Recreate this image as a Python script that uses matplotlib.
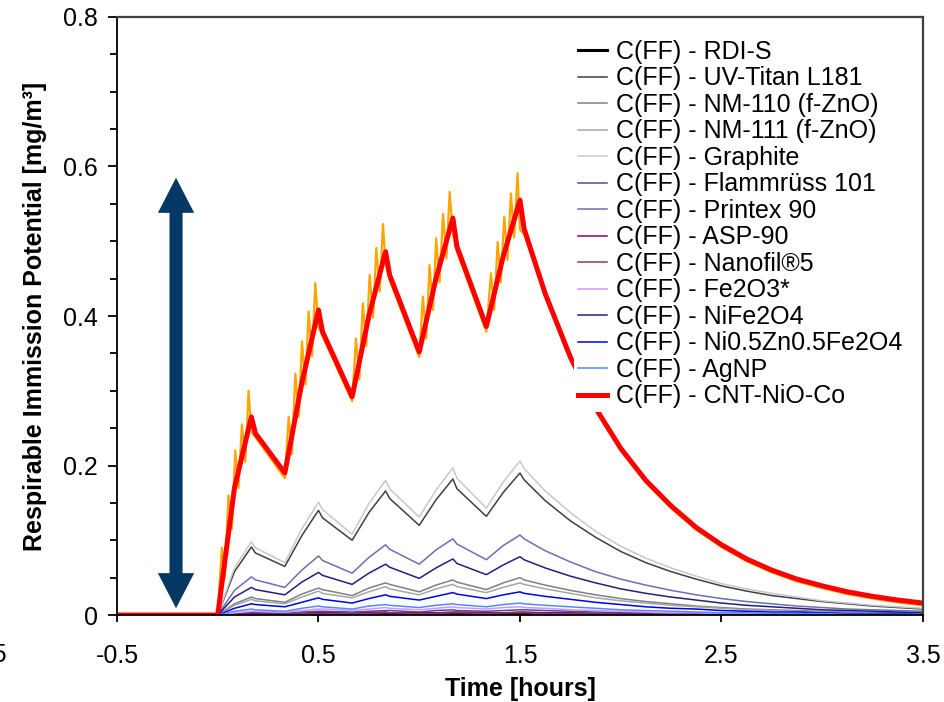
import matplotlib
matplotlib.use("Agg")
import matplotlib.pyplot as plt
from matplotlib.patches import Polygon

plt.rcParams['font.family'] = ['Liberation Sans', 'DejaVu Sans']

# time points [hours] shared by the C(FF) curves
t = [-0.5, 0, 0.083, 0.167, 0.187, 0.333, 0.417, 0.5, 0.52, 0.667, 0.75, 0.833, 0.853,
     1.0, 1.083, 1.167, 1.187, 1.333, 1.417, 1.5, 1.52, 1.625, 1.75, 1.875, 2.0, 2.125,
     2.25, 2.375, 2.5, 2.625, 2.75, 2.875, 3.0, 3.125, 3.25, 3.375, 3.5]

rdi_s = [0, 0, 0.001, 0.001, 0.001, 0.001, 0.001, 0.002, 0.002, 0.001, 0.002, 0.002, 0.002,
         0.001, 0.002, 0.002, 0.002, 0.001, 0.002, 0.002, 0.002, 0.002, 0.001, 0.001, 0.001, 0.001,
         0.001, 0, 0, 0, 0, 0, 0, 0, 0, 0, 0]
uv_titan = [0, 0, 0.058, 0.091, 0.083, 0.065, 0.106, 0.140, 0.130, 0.100, 0.137, 0.166, 0.156,
            0.120, 0.154, 0.182, 0.169, 0.132, 0.164, 0.190, 0.181, 0.153, 0.126, 0.104, 0.085, 0.070,
            0.058, 0.048, 0.039, 0.032, 0.026, 0.022, 0.018, 0.015, 0.012, 0.010, 0.008]
nm110 = [0, 0, 0.015, 0.024, 0.022, 0.017, 0.028, 0.036, 0.034, 0.026, 0.036, 0.043, 0.041,
         0.031, 0.040, 0.047, 0.044, 0.034, 0.043, 0.050, 0.047, 0.040, 0.033, 0.027, 0.022, 0.018,
         0.015, 0.012, 0.010, 0.008, 0.007, 0.006, 0.005, 0.004, 0.003, 0.003, 0.002]
nm111 = [0, 0, 0.013, 0.021, 0.019, 0.015, 0.024, 0.032, 0.029, 0.023, 0.031, 0.038, 0.035,
         0.027, 0.035, 0.041, 0.038, 0.030, 0.037, 0.043, 0.041, 0.035, 0.029, 0.023, 0.019, 0.016,
         0.013, 0.011, 0.009, 0.007, 0.006, 0.005, 0.004, 0.003, 0.003, 0.002, 0.002]
graphite = [0, 0, 0.063, 0.098, 0.090, 0.070, 0.115, 0.151, 0.141, 0.108, 0.149, 0.180, 0.169,
            0.131, 0.167, 0.197, 0.183, 0.143, 0.178, 0.206, 0.196, 0.166, 0.137, 0.112, 0.092, 0.076,
            0.063, 0.052, 0.042, 0.035, 0.029, 0.024, 0.019, 0.016, 0.013, 0.011, 0.009]
flammruss = [0, 0, 0.002, 0.003, 0.003, 0.002, 0.004, 0.005, 0.005, 0.004, 0.005, 0.006, 0.006,
             0.004, 0.006, 0.007, 0.006, 0.005, 0.006, 0.007, 0.007, 0.006, 0.005, 0.004, 0.003, 0.003,
             0.002, 0.002, 0.001, 0.001, 0.001, 0.001, 0.001, 0.001, 0, 0, 0]
printex = [0, 0, 0.033, 0.051, 0.047, 0.037, 0.060, 0.079, 0.073, 0.056, 0.077, 0.094, 0.088,
           0.068, 0.087, 0.102, 0.095, 0.074, 0.093, 0.107, 0.102, 0.086, 0.071, 0.058, 0.048, 0.040,
           0.033, 0.027, 0.022, 0.018, 0.015, 0.012, 0.010, 0.008, 0.007, 0.006, 0.005]
asp90 = [0, 0, 0.001, 0.002, 0.002, 0.001, 0.002, 0.003, 0.003, 0.002, 0.003, 0.004, 0.003,
         0.003, 0.003, 0.004, 0.004, 0.003, 0.003, 0.004, 0.004, 0.003, 0.003, 0.002, 0.002, 0.001,
         0.001, 0.001, 0.001, 0.001, 0.001, 0, 0, 0, 0, 0, 0]
nanofil = [0, 0, 0.001, 0.001, 0.001, 0.001, 0.002, 0.002, 0.002, 0.002, 0.002, 0.003, 0.003,
           0.002, 0.002, 0.003, 0.003, 0.002, 0.003, 0.003, 0.003, 0.002, 0.002, 0.002, 0.001, 0.001,
           0.001, 0.001, 0.001, 0, 0, 0, 0, 0, 0, 0, 0]
fe2o3 = [0, 0, 0.003, 0.005, 0.005, 0.004, 0.006, 0.008, 0.008, 0.006, 0.008, 0.010, 0.009,
         0.007, 0.009, 0.011, 0.010, 0.008, 0.010, 0.011, 0.010, 0.009, 0.007, 0.006, 0.005, 0.004,
         0.003, 0.003, 0.002, 0.002, 0.002, 0.001, 0.001, 0.001, 0.001, 0.001, 0]
nife2o4 = [0, 0, 0.024, 0.037, 0.034, 0.027, 0.044, 0.057, 0.053, 0.041, 0.056, 0.068, 0.064,
           0.049, 0.063, 0.075, 0.069, 0.054, 0.067, 0.078, 0.074, 0.063, 0.052, 0.043, 0.035, 0.029,
           0.024, 0.020, 0.016, 0.013, 0.011, 0.009, 0.007, 0.006, 0.005, 0.004, 0.003]
nizn = [0, 0, 0.009, 0.015, 0.014, 0.011, 0.017, 0.023, 0.021, 0.016, 0.022, 0.027, 0.025,
        0.020, 0.025, 0.030, 0.028, 0.022, 0.027, 0.031, 0.029, 0.025, 0.021, 0.017, 0.014, 0.011,
        0.009, 0.008, 0.006, 0.005, 0.004, 0.004, 0.003, 0.002, 0.002, 0.002, 0.001]
agnp = [0, 0, 0.005, 0.008, 0.007, 0.005, 0.009, 0.012, 0.011, 0.008, 0.012, 0.014, 0.013,
        0.010, 0.013, 0.015, 0.014, 0.011, 0.014, 0.016, 0.015, 0.013, 0.011, 0.009, 0.007, 0.006,
        0.005, 0.004, 0.003, 0.003, 0.002, 0.002, 0.002, 0.001, 0.001, 0.001, 0.001]
cnt = [0, 0, 0.17, 0.265, 0.243, 0.19, 0.31, 0.408, 0.379, 0.292, 0.40, 0.486, 0.455,
       0.352, 0.45, 0.531, 0.493, 0.386, 0.48, 0.555, 0.517, 0.430, 0.345, 0.277, 0.223, 0.180,
       0.146, 0.117, 0.094, 0.075, 0.060, 0.048, 0.039, 0.031, 0.025, 0.020, 0.016]

# measured CNT-NiO-Co trace (orange, not in legend)
t_meas = [-0.5, 0, 0.02, 0.035, 0.053, 0.07, 0.087, 0.103, 0.12, 0.137, 0.153, 0.167, 0.187, 0.333,
          0.352, 0.368, 0.385, 0.402, 0.418, 0.435, 0.451, 0.468, 0.484, 0.5, 0.52, 0.667,
          0.686, 0.703, 0.72, 0.737, 0.754, 0.771, 0.787, 0.804, 0.82, 0.833, 0.853, 1.0,
          1.018, 1.035, 1.051, 1.068, 1.084, 1.101, 1.118, 1.135, 1.151, 1.167, 1.187, 1.333,
          1.356, 1.372, 1.389, 1.405, 1.422, 1.438, 1.455, 1.471, 1.488, 1.5, 1.52,
          1.625, 1.75, 1.875, 2.0, 2.125, 2.25, 2.375, 2.5, 2.625, 2.75, 2.875, 3.0, 3.125,
          3.25, 3.375, 3.5]
c_meas = [0, 0, 0.09, 0.05, 0.16, 0.115, 0.22, 0.17, 0.255, 0.205, 0.30, 0.245, 0.238, 0.183,
          0.265, 0.215, 0.323, 0.265, 0.366, 0.308, 0.406, 0.346, 0.444, 0.385, 0.373, 0.286,
          0.37, 0.315, 0.417, 0.36, 0.455, 0.398, 0.491, 0.433, 0.523, 0.47, 0.448, 0.345,
          0.426, 0.37, 0.468, 0.408, 0.504, 0.445, 0.537, 0.477, 0.566, 0.51, 0.486, 0.379,
          0.457, 0.408, 0.499, 0.445, 0.533, 0.475, 0.564, 0.505, 0.591, 0.515, 0.51,
          0.427, 0.342, 0.274, 0.220, 0.177, 0.143, 0.114, 0.091, 0.072, 0.057, 0.045, 0.036,
          0.028, 0.022, 0.017, 0.013]

series = [
    ("C(FF) - RDI-S", rdi_s, "#000000", 2.2),
    ("C(FF) - UV-Titan L181", uv_titan, "#404040", 1.1),
    ("C(FF) - NM-110 (f-ZnO)", nm110, "#808080", 1.1),
    ("C(FF) - NM-111 (f-ZnO)", nm111, "#a6a6a6", 1.1),
    ("C(FF) - Graphite", graphite, "#c8c8c8", 1.1),
    ("C(FF) - Flammrüss 101", flammruss, "#4d4d9f", 1.1),
    ("C(FF) - Printex 90", printex, "#6e6eb2", 1.1),
    ("C(FF) - ASP-90", asp90, "#800080", 1.1),
    ("C(FF) - Nanofil®5", nanofil, "#993366", 1.1),
    ("C(FF) - Fe2O3*", fe2o3, "#cc99ff", 1.1),
    ("C(FF) - NiFe2O4", nife2o4, "#202080", 1.1),
    ("C(FF) - Ni0.5Zn0.5Fe2O4", nizn, "#0000ee", 1.1),
    ("C(FF) - AgNP", agnp, "#5588ff", 1.1),
]

fig = plt.figure(figsize=(9.45, 7.02), dpi=100)
ax = fig.add_axes([0.1238, 0.1239, 0.8529, 0.8519])

for name, vals, col, lw in series:
    ax.plot(t, vals, color=col, lw=lw, label=name)
ax.plot(t_meas, c_meas, color="#ffa500", lw=1.6, label="_nolegend_")
ax.plot(t, cnt, color="#ff0000", lw=3.6, label="C(FF) - CNT-NiO-Co")

# double headed arrow as one outline
x0, ytop, ybot = -0.207, 0.585, 0.009
w, hw, hl = 0.0325, 0.09, 0.047
arrow_pts = [(x0, ytop), (x0 + hw, ytop - hl), (x0 + w, ytop - hl), (x0 + w, ybot + hl),
             (x0 + hw, ybot + hl), (x0, ybot), (x0 - hw, ybot + hl), (x0 - w, ybot + hl),
             (x0 - w, ytop - hl), (x0 - hw, ytop - hl)]
ax.add_patch(Polygon(arrow_pts, closed=True, facecolor="#053864", edgecolor="none"))

ax.set_xlim(-0.5, 3.5)
ax.set_ylim(0, 0.8)
ax.set_xticks([-0.5, 0.5, 1.5, 2.5, 3.5])
ax.set_xticklabels(["-0.5", "0.5", "1.5", "2.5", "3.5"])
ax.set_yticks([0, 0.2, 0.4, 0.6, 0.8])
ax.set_yticklabels(["0", "0.2", "0.4", "0.6", "0.8"])
ax.set_yticks([0.05, 0.1, 0.15, 0.25, 0.3, 0.35, 0.45, 0.5, 0.55, 0.65, 0.7, 0.75], minor=True)
ax.tick_params(axis='x', direction='out', length=5, width=1.3, labelsize=18, pad=16)
ax.tick_params(axis='y', which='major', direction='out', length=6.5, width=1.3, labelsize=18, pad=7)
ax.tick_params(axis='y', which='minor', direction='out', length=5, width=1.3)

for s in ['left', 'bottom']:
    ax.spines[s].set_linewidth(1.3)
    ax.spines[s].set_color('black')
for s in ['top', 'right']:
    ax.spines[s].set_linewidth(1.6)
    ax.spines[s].set_color('#404040')

ax.set_xlabel("Time [hours]", fontsize=18, fontweight='bold', labelpad=6)
ax.set_ylabel("Respirable Immission Potential [mg/m³]", fontsize=18, fontweight='bold', labelpad=12)

leg = ax.legend(loc='upper left', bbox_to_anchor=(0.5674, 0.968), frameon=True, fontsize=18,
                handlelength=1.15, handletextpad=0.35, borderpad=0.15, borderaxespad=0,
                labelspacing=0.1, fancybox=False, framealpha=1)
leg.get_frame().set_facecolor('white')
leg.get_frame().set_edgecolor('none')

fig.text(7 / 945, 1 - 655 / 702, "1.5", ha='right', va='center', fontsize=18)

fig.savefig("out.png", dpi=100)
